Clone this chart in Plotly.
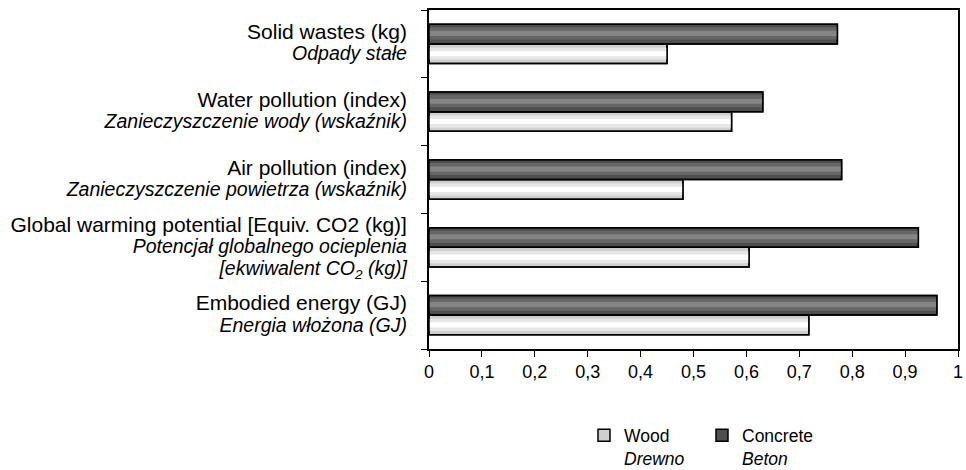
import plotly.graph_objects as go

# categories listed bottom -> top
cat_en = ["Embodied energy (GJ)",
          "Global warming potential [Equiv. CO2 (kg)]",
          "Air pollution (index)",
          "Water pollution (index)",
          "Solid wastes (kg)"]
cat_pl = ["Energia włożona (GJ)",
          "Potencjał globalnego ocieplenia<br>[ekwiwalent CO<sub>2</sub> (kg)]",
          "Zanieczyszczenie powietrza (wskaźnik)",
          "Zanieczyszczenie wody (wskaźnik)",
          "Odpady stałe"]
wood = [0.718, 0.605, 0.480, 0.572, 0.450]
concrete = [0.960, 0.925, 0.780, 0.631, 0.772]
x_ticks = [0, 0.1, 0.2, 0.3, 0.4, 0.5, 0.6, 0.7, 0.8, 0.9, 1]

def pl_line(p):
    return "<br>".join(f'<span style="font-size:19.5px"><i>{part}</i></span>'
                       for part in p.split("<br>"))

tick_text = [f'<span style="font-size:21px">{e}</span><br>{pl_line(p)}'
             for e, p in zip(cat_en, cat_pl)]

FONT = "Liberation Sans, Arial, sans-serif"
BW = 0.29

series = [
    dict(name="Wood<br><i>Drewno</i>", vals=wood, offset=-BW,
         colors=["#cfcfcf", "#e6e6e6", "#ffffff"]),
    dict(name="Concrete<br><i>Beton</i>", vals=concrete, offset=0.0,
         colors=["#4f4f4f", "#666666", "#858585"]),
]

fig = go.Figure()
for s in series:
    fig.add_trace(go.Bar(
        y=cat_en, x=s["vals"], orientation="h", width=BW, offset=s["offset"],
        marker=dict(color=s["colors"][0], line=dict(color="black", width=1.5)),
        name=s["name"], showlegend=True, hoverinfo="skip"))
    for frac, col in [(0.62, s["colors"][1]), (0.26, s["colors"][2])]:
        w = BW * frac
        off = s["offset"] + (BW - w) / 2 + (0.01 if s["offset"] == 0 else 0)
        fig.add_trace(go.Bar(
            y=cat_en, x=s["vals"], orientation="h", width=w, offset=off,
            marker=dict(color=col, line=dict(width=0)),
            showlegend=False, hoverinfo="skip"))
    fig.add_trace(go.Bar(
        y=cat_en, x=s["vals"], orientation="h", width=BW, offset=s["offset"],
        marker=dict(color="rgba(0,0,0,0)", line=dict(color="black", width=1.5)),
        showlegend=False, hoverinfo="skip"))

fig.update_layout(
    width=966, height=470,
    margin=dict(l=429, r=8, t=10, b=121, autoexpand=False),
    barmode="overlay",
    paper_bgcolor="white", plot_bgcolor="white",
    separators=", ",
    font=dict(family=FONT, size=18, color="black"),
    legend=dict(orientation="h", x=0.293, y=-0.202, xanchor="left", yanchor="top",
                valign="top", font=dict(size=17.5), itemwidth=30,
                entrywidth=73, traceorder="normal"),
    xaxis=dict(range=[0, 1], tickmode="array", tickvals=x_ticks,
               ticks="outside", ticklen=6, tickcolor="black", tickwidth=1,
               showline=True, linecolor="black", linewidth=1.5,
               mirror=True, showgrid=False, zeroline=False,
               tickfont=dict(size=18), tickformat=".1~f",
               ticklabelstandoff=0, ticklabeloverflow="allow"),
    yaxis=dict(type="category", categoryorder="array", categoryarray=cat_en,
               tickmode="array", tickvals=cat_en, ticktext=tick_text,
               tickson="boundaries", ticks="outside", ticklen=6,
               tickcolor="black", showline=True, linecolor="black",
               linewidth=1.5, mirror=True, showgrid=False,
               tickfont=dict(size=16.5), range=[-0.5, 4.5],
               ticklabelstandoff=17, ticklabeloverflow="allow"),
)

fig.write_html("out.html",
               config={"displayModeBar": False},
               post_script="document.body.style.margin='0';"
                           "document.body.style.overflow='hidden';")
